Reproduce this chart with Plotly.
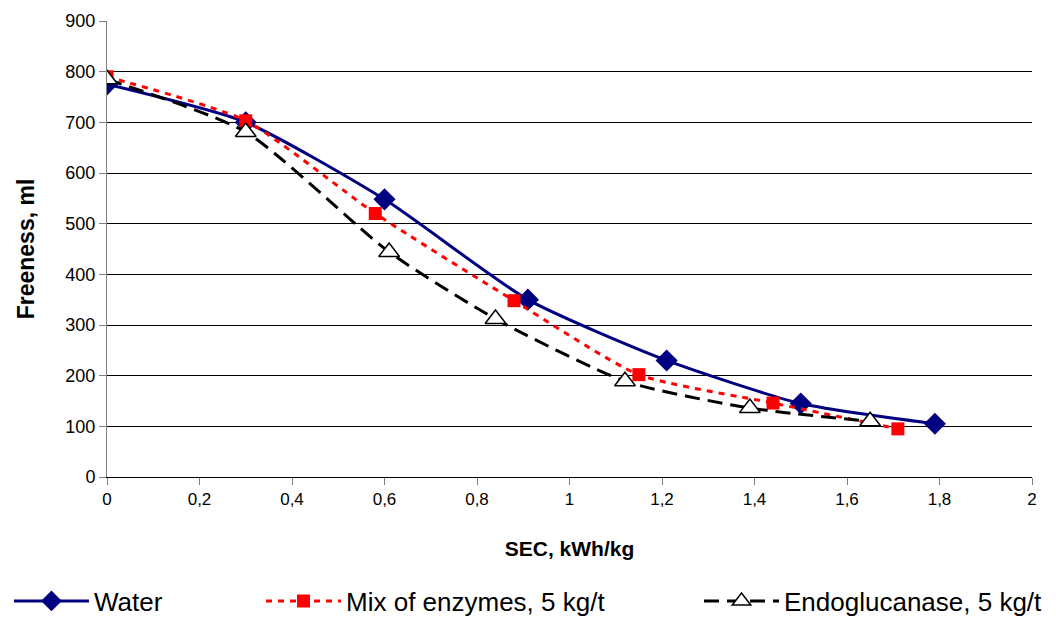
import plotly.graph_objects as go

# Specific energy consumption (kWh/kg) vs. freeness (ml) for three pre-treatments
water_sec = [0.0, 0.30, 0.60, 0.91, 1.21, 1.50, 1.79]
water_free = [775, 700, 548, 350, 230, 145, 105]

mix_sec = [0.0, 0.30, 0.58, 0.88, 1.15, 1.44, 1.71]
mix_free = [790, 703, 520, 348, 202, 146, 95]

endo_sec = [0.0, 0.30, 0.61, 0.84, 1.12, 1.39, 1.65]
endo_free = [785, 681, 444, 312, 189, 136, 110]

x_ticks = [0, 0.2, 0.4, 0.6, 0.8, 1, 1.2, 1.4, 1.6, 1.8, 2]
y_ticks = [0, 100, 200, 300, 400, 500, 600, 700, 800, 900]

FONT = "Liberation Sans, Arial, sans-serif"

fig = go.Figure()

fig.add_trace(go.Scatter(
    x=water_sec, y=water_free, name="Water", legend="legend",
    mode="lines+markers",
    line=dict(color="#000080", width=3, shape="spline", smoothing=0.6),
    marker=dict(symbol="diamond", size=17, color="#000080"),
))
fig.add_trace(go.Scatter(
    x=mix_sec, y=mix_free, name="Mix of enzymes, 5 kg/t", legend="legend2",
    mode="lines+markers",
    line=dict(color="#ff0000", width=3, dash="6px,6px", shape="spline", smoothing=0.6),
    marker=dict(symbol="square", size=13, color="#ff0000"),
))
fig.add_trace(go.Scatter(
    x=endo_sec, y=endo_free, name="Endoglucanase, 5 kg/t", legend="legend3",
    mode="lines+markers",
    line=dict(color="#000000", width=3, dash="15px,8px", shape="spline", smoothing=0.6),
    marker=dict(symbol="triangle-up", size=18, color="#ffffff",
                line=dict(color="#000000", width=1.5)),
))

legend_common = dict(
    orientation="h", yanchor="middle", xanchor="left",
    font=dict(family=FONT, size=26, color="#000000"),
    itemwidth=75, bgcolor="rgba(0,0,0,0)", borderwidth=0,
)

fig.update_layout(
    width=1056, height=618,
    margin=dict(l=107, r=24, t=21, b=141, autoexpand=False),
    paper_bgcolor="#ffffff", plot_bgcolor="#ffffff",
    separators=", ",
    font=dict(family=FONT, color="#000000"),
    showlegend=True,
    legend=dict(x=-0.106, y=-0.272, **legend_common),
    legend2=dict(x=0.1665, y=-0.272, **legend_common),
    legend3=dict(x=0.640, y=-0.272, **legend_common),
    xaxis=dict(
        range=[0, 2], tickvals=x_ticks,
        showgrid=False, zeroline=False,
        showline=True, linecolor="#000000", linewidth=1,
        ticks="outside", ticklen=7, tickcolor="#808080",
        tickfont=dict(family=FONT, size=17, color="#000000"),
        title=dict(text="<b>SEC, kWh/kg</b>", font=dict(family=FONT, size=21), standoff=32),
    ),
    yaxis=dict(
        range=[0, 900], tickvals=y_ticks,
        showgrid=True, gridcolor="#000000", gridwidth=1,
        zeroline=False,
        showline=True, linecolor="#808080", linewidth=1,
        ticks="outside", ticklen=7, tickcolor="#808080",
        tickfont=dict(family=FONT, size=18, color="#000000"),
        title=dict(text="<b>Freeness, ml</b>", font=dict(family=FONT, size=23), standoff=24),
    ),
)

fig.write_html("out.html")
